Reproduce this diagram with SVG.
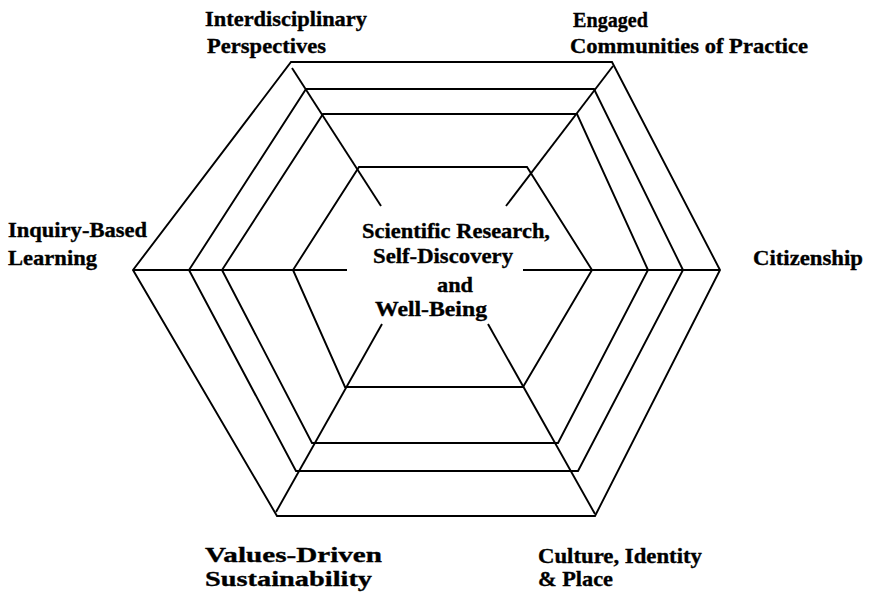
<svg xmlns="http://www.w3.org/2000/svg" width="873" height="594" viewBox="0 0 873 594">
  <style>
    .ring { fill: none; stroke: #000; stroke-width: 1.9; stroke-linejoin: miter; }
    .spoke { fill: none; stroke: #000; stroke-width: 1.9; stroke-linecap: butt; }
    .lbl { font-family: "Liberation Serif", "Times New Roman", serif; font-weight: bold; font-size: 22px; fill: #000; stroke: #000; stroke-width: 0.35; }
  </style>
  <rect width="873" height="594" fill="#fff"/>

  <!-- concentric hexagonal rings, outermost first -->
  <g id="ring-outer"><polygon class="ring" points="291,62 612,62 720,270 595,516 277,516 133,270"/></g>
  <g id="ring-2"><polygon class="ring" points="306,89 594,89 683,270 578,471 296,471 189,270"/></g>
  <g id="ring-3"><polygon class="ring" points="323,114 577,114 648,270 558,443 312,443 222,270"/></g>
  <g id="ring-inner"><polygon class="ring" points="359,167 527,167 592,270 523,387 345,387 293,270"/></g>

  <!-- spokes from the centre out to the six corners -->
  <g id="connectors">
    <line class="spoke" x1="292" y1="68" x2="381" y2="206"/>
    <line class="spoke" x1="613" y1="66" x2="506" y2="206"/>
    <line class="spoke" x1="133" y1="270" x2="347" y2="270"/>
    <line class="spoke" x1="523" y1="270" x2="720" y2="270"/>
    <line class="spoke" x1="382" y1="324" x2="276" y2="512"/>
    <line class="spoke" x1="488" y1="324" x2="595" y2="514"/>
  </g>

  <g id="centre">
    <text class="lbl" x="362" y="238" textLength="188" lengthAdjust="spacingAndGlyphs">Scientific Research,</text>
    <text class="lbl" x="373" y="263" textLength="140" lengthAdjust="spacingAndGlyphs">Self-Discovery</text>
    <text class="lbl" x="437" y="292" textLength="36" lengthAdjust="spacingAndGlyphs">and</text>
    <text class="lbl" x="375" y="316" textLength="112" lengthAdjust="spacingAndGlyphs">Well-Being</text>
  </g>

  <g id="interdisciplinary">
    <text class="lbl" x="205" y="26" textLength="162" lengthAdjust="spacingAndGlyphs">Interdisciplinary</text>
    <text class="lbl" x="207" y="53" textLength="119" lengthAdjust="spacingAndGlyphs">Perspectives</text>
  </g>

  <g id="engaged">
    <text class="lbl" x="573" y="27" textLength="75" lengthAdjust="spacingAndGlyphs">Engaged</text>
    <text class="lbl" x="570" y="53" textLength="238" lengthAdjust="spacingAndGlyphs">Communities of Practice</text>
  </g>

  <g id="inquiry">
    <text class="lbl" x="8" y="237" textLength="139" lengthAdjust="spacingAndGlyphs">Inquiry-Based</text>
    <text class="lbl" x="8" y="265" textLength="89" lengthAdjust="spacingAndGlyphs">Learning</text>
  </g>

  <g id="citizenship">
    <text class="lbl" x="753" y="265" textLength="110" lengthAdjust="spacingAndGlyphs">Citizenship</text>
  </g>

  <g id="values">
    <text class="lbl" x="205" y="562" textLength="177" lengthAdjust="spacingAndGlyphs">Values-Driven</text>
    <text class="lbl" x="205" y="586" textLength="167" lengthAdjust="spacingAndGlyphs">Sustainability</text>
  </g>

  <g id="culture">
    <text class="lbl" x="538" y="563" textLength="164" lengthAdjust="spacingAndGlyphs">Culture, Identity</text>
    <text class="lbl" x="538" y="586" textLength="75" lengthAdjust="spacingAndGlyphs">&amp; Place</text>
  </g>
</svg>
